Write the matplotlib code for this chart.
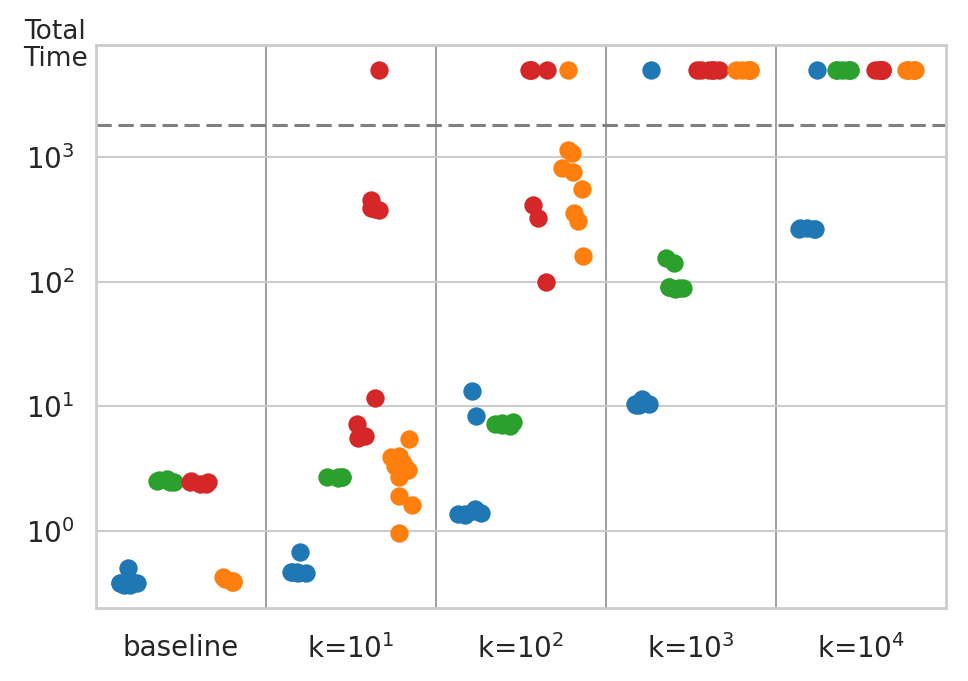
import numpy as np
import matplotlib
matplotlib.use("Agg")
import matplotlib.pyplot as plt

# runs that hit the time limit are drawn in a band above the dashed line
TIMEOUT = 1800
TIMED_OUT = 5000

categories = ["baseline", "k=$10^1$", "k=$10^2$", "k=$10^3$", "k=$10^4$"]

# one list per category, for each of the four methods
times_blue = [
    [0.38, 0.37, 0.38, 0.39, 0.38, 0.50, 0.37],
    [0.47, 0.46, 0.47, 0.47, 0.68, 0.46],
    [13.3, 8.3, 1.38, 1.36, 1.45, 1.50, 1.35, 1.37],
    [TIMED_OUT, 10.4, 10.3, 10.5, 11.4, 10.2],
    [TIMED_OUT, 265, 262, 268, 270, 263],
]
times_green = [
    [2.45, 2.50, 2.60, 2.55, 2.45, 2.50],
    [2.70, 2.72, 2.68, 2.70, 2.71],
    [7.3, 7.0, 7.5, 7.2, 7.4, 7.1],
    [141, 155, 89, 91, 88, 90, 87],
    [TIMED_OUT] * 6,
]
times_red = [
    [2.40, 2.45, 2.50, 2.40, 2.45],
    [TIMED_OUT, 450, 390, 375, 380, 11.7, 7.2, 5.8, 5.6],
    [TIMED_OUT, TIMED_OUT, TIMED_OUT, TIMED_OUT, 410, 325, 99],
    [TIMED_OUT] * 6,
    [TIMED_OUT] * 6,
]
times_orange = [
    [0.40, 0.41, 0.39, 0.43, 0.40, 0.39],
    [5.5, 4.0, 3.9, 3.5, 3.3, 3.1, 2.7, 1.9, 1.6, 0.96],
    [TIMED_OUT, 1140, 1080, 810, 760, 550, 355, 305, 160],
    [TIMED_OUT] * 6,
    [TIMED_OUT] * 6,
]

series = [times_blue, times_green, times_red, times_orange]
colors = ["#1f77b4", "#2ca02c", "#d62728", "#ff7f0e"]


def main():
    fig = plt.figure(figsize=(9.68, 6.81), dpi=100)
    ax = fig.add_axes([0.0992, 0.1072, 0.8781, 0.8267])

    rng = np.random.default_rng(3)
    width = 0.8
    n = len(series)
    for s, (data, color) in enumerate(zip(series, colors)):
        offset = -width / 2 + width / n * (s + 0.5)
        for c, values in enumerate(data):
            x = c + offset + rng.uniform(-0.07, 0.07, len(values))
            ax.scatter(x, values, s=175, color=color, linewidths=0, zorder=3)

    ax.set_yscale("log")
    ax.set_ylim(0.241, 7890)
    ax.set_xlim(-0.5, len(categories) - 0.5)
    ax.set_yticks([1, 10, 100, 1000])
    ax.minorticks_off()
    ax.set_xticks(range(len(categories)))
    ax.set_xticklabels(categories)

    ax.grid(axis="y", color="#cccccc", linewidth=1.5, zorder=0)
    for b in np.arange(0.5, len(categories) - 0.5):
        ax.axvline(b, color="#8c8c8c", linewidth=1.2, zorder=1)
    ax.axhline(TIMEOUT, color="#808080", linewidth=2.2, dashes=(5, 2.2), zorder=2)

    for sp in ax.spines.values():
        sp.set_color("#cccccc")
        sp.set_linewidth(2)

    ax.tick_params(axis="both", length=0, labelsize=20, labelcolor="#262626")
    ax.tick_params(axis="x", pad=19)
    ax.tick_params(axis="y", pad=15.5)

    ax.text(-0.01, 1.0, "Total\nTime", transform=ax.transAxes, ha="right",
            va="center", multialignment="center", fontsize=19,
            color="#262626", linespacing=1.05)

    fig.savefig("out.png", dpi=100)


if __name__ == "__main__":
    main()
